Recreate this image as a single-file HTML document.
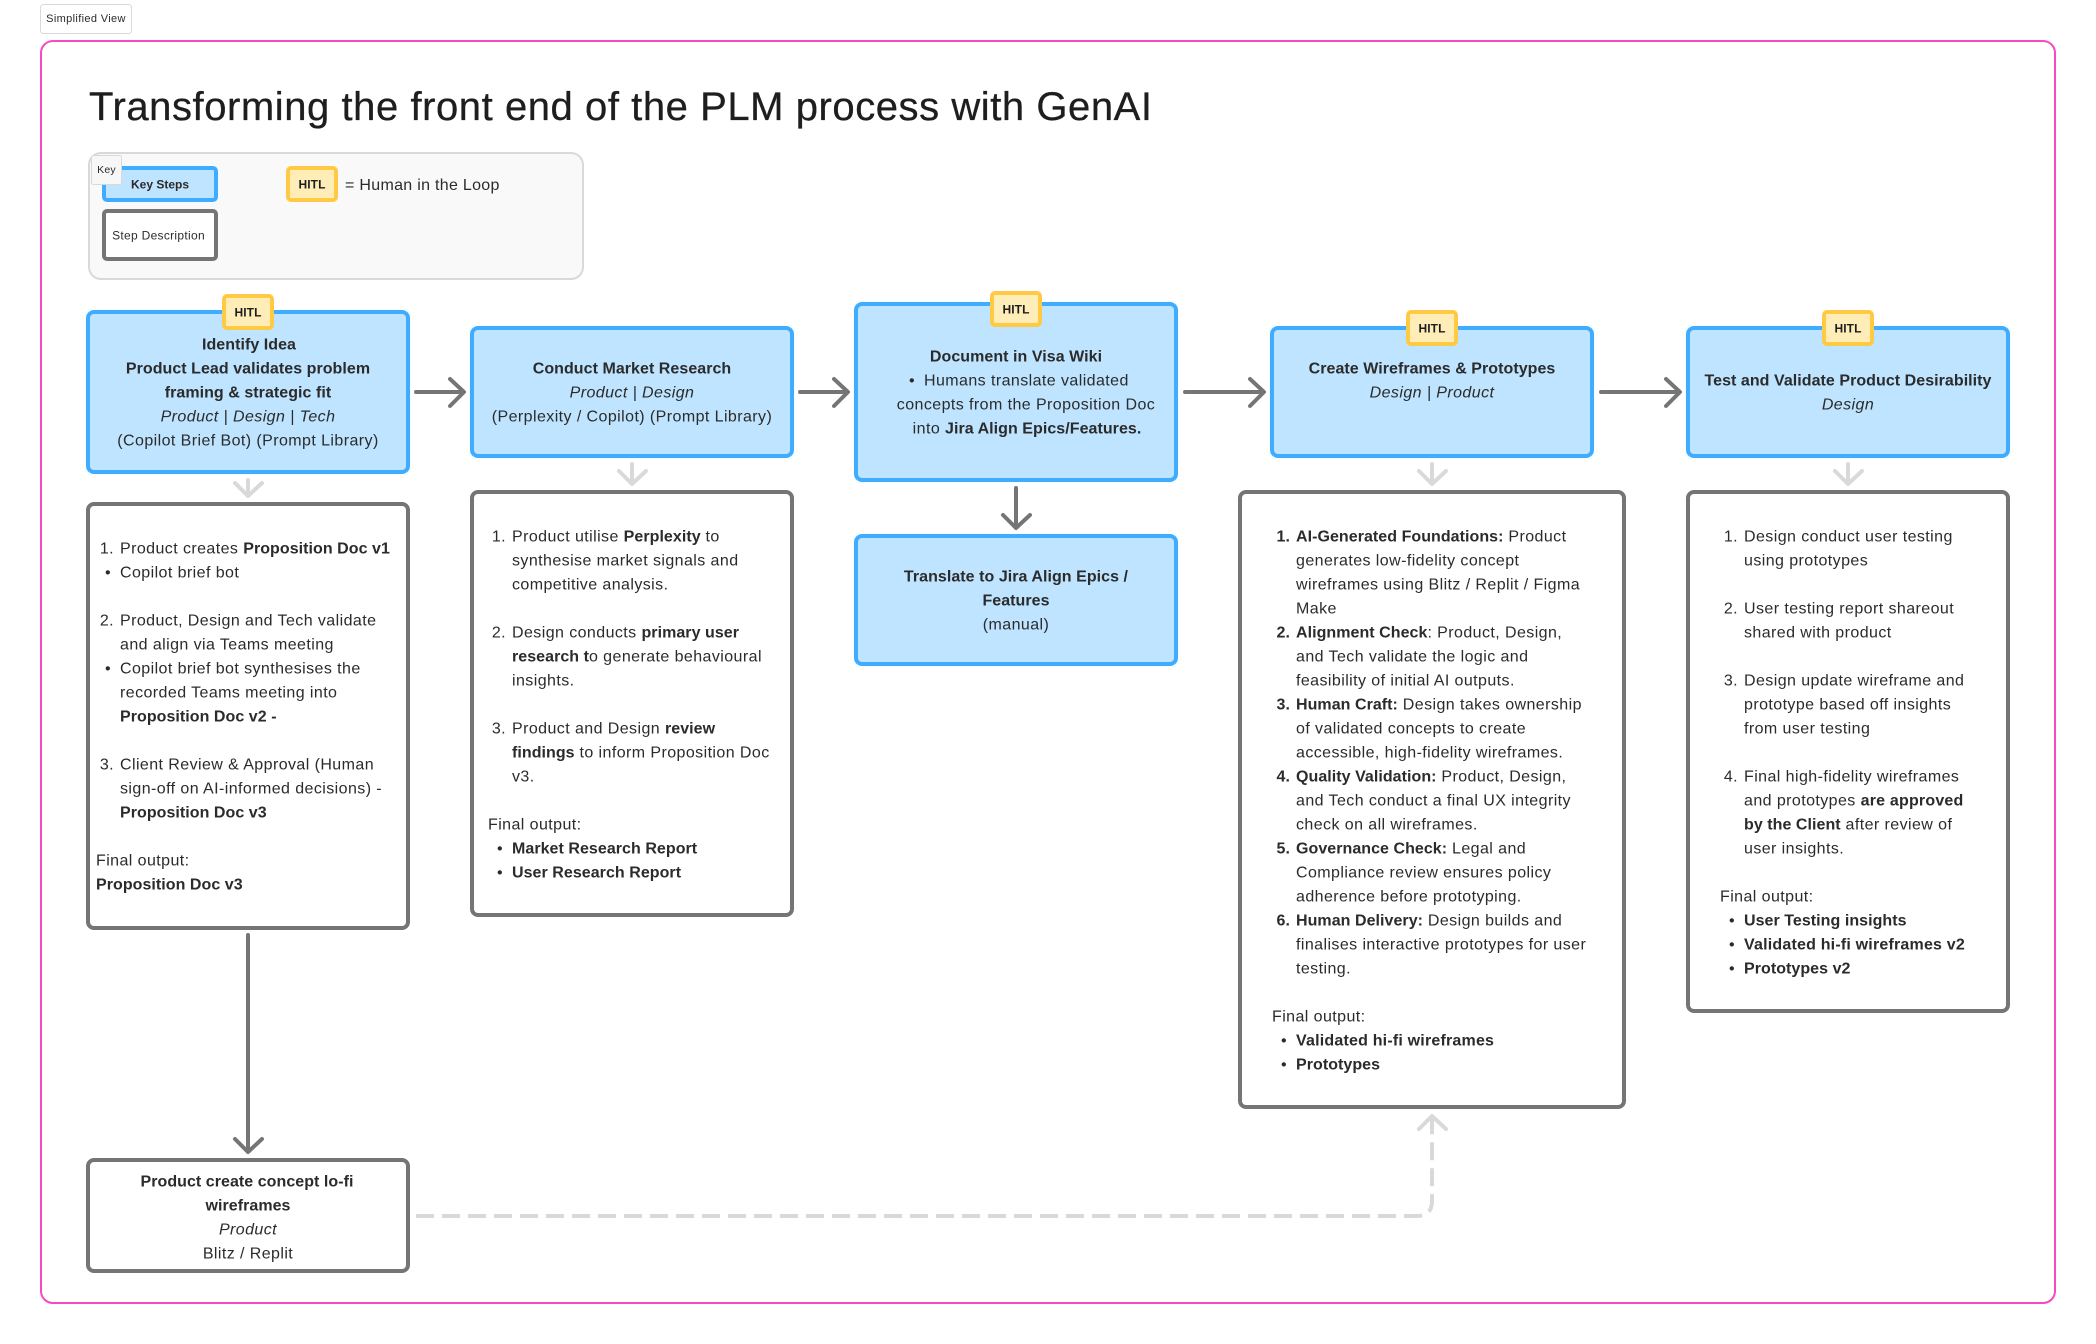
<!DOCTYPE html>
<html lang="en">
<head>
<meta charset="utf-8">
<title>Transforming the front end of the PLM process with GenAI</title>
<style>
html,body{margin:0;padding:0;background:#fff;width:2096px;height:1344px;overflow:hidden}
svg{display:block}
text{font-family:"Liberation Sans",sans-serif;font-size:16px;letter-spacing:.42px;fill:#2b2b2b}
.c{text-anchor:middle}
.e{text-anchor:end}
.b{font-weight:bold;letter-spacing:.05px}
.i{font-style:italic}
tspan.b{font-weight:bold;letter-spacing:.05px}
tspan.w{font-weight:bold;letter-spacing:.2px}
.blue{fill:#bfe4ff;stroke:#3fadff;stroke-width:4}
.gray{fill:#fff;stroke:#757575;stroke-width:4}
.hitl{fill:#ffedb8;stroke:#ffc943;stroke-width:4}
.a{fill:none;stroke:#757575;stroke-width:4;stroke-linecap:round;stroke-linejoin:round}
.l{fill:none;stroke:#d9d9d9;stroke-width:4;stroke-linecap:round;stroke-linejoin:round}
.h{font-size:12px;font-weight:bold;letter-spacing:.1px;text-anchor:middle;fill:#1e1e1e}
</style>
</head>
<body>
<svg width="2096" height="1344" viewBox="0 0 2096 1344" xmlns="http://www.w3.org/2000/svg">
<rect x="40.5" y="4.5" width="91" height="29" rx="3" fill="#fff" stroke="#d9d9d9"/>
<rect x="41" y="41" width="2014" height="1262" rx="12" fill="#fff" stroke="#f849c1" stroke-width="2"/>
<text x="89" y="120" textLength="1063" lengthAdjust="spacing" style="font-size:40px;letter-spacing:0;fill:#1e1e1e;stroke:#1e1e1e;stroke-width:.3">Transforming the front end of the PLM process with GenAI</text>

<!-- Key -->
<rect x="89" y="153" width="494" height="126" rx="12" fill="#f9f9f9" stroke="#d9d9d9" stroke-width="2"/>
<rect x="104" y="168" width="112" height="32" rx="3" class="blue"/>
<rect x="104" y="211" width="112" height="48" rx="3" class="gray"/>
<rect x="288" y="168" width="48" height="32" rx="3" class="hitl"/>
<rect x="91.5" y="155.5" width="30" height="29" rx="2" fill="#f7f7f7" stroke="#d9d9d9"/>

<!-- Blue boxes -->
<rect x="88" y="312" width="320" height="160" rx="6" class="blue"/>
<rect x="472" y="328" width="320" height="128" rx="6" class="blue"/>
<rect x="856" y="304" width="320" height="176" rx="6" class="blue"/>
<rect x="856" y="536" width="320" height="128" rx="6" class="blue"/>
<rect x="1272" y="328" width="320" height="128" rx="6" class="blue"/>
<rect x="1688" y="328" width="320" height="128" rx="6" class="blue"/>

<!-- HITL tags -->
<rect x="224" y="296" width="48" height="32" rx="3" class="hitl"/>
<rect x="992" y="293" width="48" height="32" rx="3" class="hitl"/>
<rect x="1408" y="312" width="48" height="32" rx="3" class="hitl"/>
<rect x="1824" y="312" width="48" height="32" rx="3" class="hitl"/>

<!-- Description boxes -->
<rect x="88" y="504" width="320" height="424" rx="6" class="gray"/>
<rect x="472" y="492" width="320" height="423" rx="6" class="gray"/>
<rect x="1240" y="492" width="384" height="615" rx="6" class="gray"/>
<rect x="1688" y="492" width="320" height="519" rx="6" class="gray"/>
<rect x="88" y="1160" width="320" height="111" rx="6" class="gray"/>

<!-- Connectors -->
<path class="a" d="M416 392H463M450 379L464 392L450 406"/>
<path class="a" d="M800 392H847M834 379L848 392L834 406"/>
<path class="a" d="M1185 392H1263M1250 379L1264 392L1250 406"/>
<path class="a" d="M1601 392H1679M1666 379L1680 392L1666 406"/>
<path class="a" d="M1016 488V528M1003 515L1016 528L1030 515"/>
<path class="a" d="M248 935V1152M235 1139L248 1152L262 1139"/>
<path class="l" d="M248 480V496M235 483L248 496L262 483"/>
<path class="l" d="M632 464V484M619 471L632 484L646 471"/>
<path class="l" d="M1432 464V484M1419 471L1432 484L1446 471"/>
<path class="l" d="M1848 464V484M1835 471L1848 484L1862 471"/>
<path class="l" d="M1419 1129L1432 1116L1446 1129"/>
<path d="M416 1216H1417Q1432 1216 1432 1201V1118" fill="none" stroke="#d9d9d9" stroke-width="4" stroke-dasharray="18 8"/>

<g transform="translate(0,5.5)">
<text x="86" y="16.5" class="c" style="font-size:11px;letter-spacing:.35px">Simplified View</text>
<text x="106.500" y="167.500" class="c" style="font-size:10.5px;letter-spacing:.2px">Key</text>
<text x="160" y="183" class="c b" style="font-size:12px;letter-spacing:0">Key Steps</text>
<text x="158.500" y="234" class="c" style="font-size:12px;letter-spacing:.3px">Step Description</text>
<text x="312" y="183" class="h">HITL</text>
<text x="345" y="184.500" style="font-size:16px;letter-spacing:.3px">= Human in the Loop</text>
<text x="248" y="311" class="h">HITL</text>
<text x="1016" y="308" class="h">HITL</text>
<text x="1432" y="327" class="h">HITL</text>
<text x="1848" y="327" class="h">HITL</text>

<!-- Box 1 -->
<text x="249" y="344" class="c b">Identify Idea</text>
<text x="248" y="368" class="c b">Product Lead validates problem</text>
<text x="248" y="392" class="c b">framing &amp; strategic fit</text>
<text x="248" y="416" class="c i">Product | Design | Tech</text>
<text x="248" y="440" class="c">(Copilot Brief Bot) (Prompt Library)</text>

<!-- Box 2 -->
<text x="632" y="368" class="c b">Conduct Market Research</text>
<text x="632" y="392" class="c i">Product | Design</text>
<text x="632" y="416" class="c">(Perplexity / Copilot) (Prompt Library)</text>

<!-- Box 3 -->
<text x="1016" y="356" class="c b">Document in Visa Wiki</text>
<text x="912" y="380" class="c">•</text>
<text x="924" y="380">Humans translate validated</text>
<text x="1026" y="404" class="c">concepts from the Proposition Doc</text>
<text x="1027" y="428" class="c">into <tspan class="b">Jira Align Epics/Features.</tspan></text>

<!-- Jira box -->
<text x="1016" y="576" class="c b">Translate to Jira Align Epics /</text>
<text x="1016" y="600" class="c b">Features</text>
<text x="1016" y="624" class="c">(manual)</text>

<!-- Box 4 -->
<text x="1432" y="368" class="c b">Create Wireframes &amp; Prototypes</text>
<text x="1432" y="392" class="c i">Design | Product</text>

<!-- Box 5 -->
<text x="1848" y="380" class="c b">Test and Validate Product Desirability</text>
<text x="1848" y="404" class="c i">Design</text>

<!-- Desc 1 -->
<text x="114" y="548" class="e">1.</text>
<text x="120" y="548">Product creates <tspan class="b">Proposition Doc v1</tspan></text>
<text x="108" y="572" class="c">•</text>
<text x="120" y="572">Copilot brief bot</text>
<text x="114" y="620" class="e">2.</text>
<text x="120" y="620">Product, Design and Tech validate</text>
<text x="120" y="644">and align via Teams meeting</text>
<text x="108" y="668" class="c">•</text>
<text x="120" y="668">Copilot brief bot synthesises the</text>
<text x="120" y="692">recorded Teams meeting into</text>
<text x="120" y="716"><tspan class="b">Proposition Doc v2 -</tspan></text>
<text x="114" y="764" class="e">3.</text>
<text x="120" y="764">Client Review &amp; Approval (Human</text>
<text x="120" y="788">sign-off on AI-informed decisions) -</text>
<text x="120" y="812"><tspan class="b">Proposition Doc v3</tspan></text>
<text x="96" y="860">Final output:</text>
<text x="96" y="884"><tspan class="b">Proposition Doc v3</tspan></text>

<!-- Bottom box -->
<text x="247" y="1181" class="c b">Product create concept lo-fi</text>
<text x="248" y="1205" class="c b">wireframes</text>
<text x="248" y="1229" class="c i">Product</text>
<text x="248" y="1253" class="c">Blitz / Replit</text>

<!-- Desc 2 -->
<text x="506" y="536" class="e">1.</text>
<text x="512" y="536">Product utilise <tspan class="b">Perplexity</tspan> to</text>
<text x="512" y="560">synthesise market signals and</text>
<text x="512" y="584">competitive analysis.</text>
<text x="506" y="632" class="e">2.</text>
<text x="512" y="632">Design conducts <tspan class="b">primary user</tspan></text>
<text x="512" y="656"><tspan class="b">research t</tspan>o generate behavioural</text>
<text x="512" y="680">insights.</text>
<text x="506" y="728" class="e">3.</text>
<text x="512" y="728">Product and Design <tspan class="b">review</tspan></text>
<text x="512" y="752"><tspan class="b">findings</tspan> to inform Proposition Doc</text>
<text x="512" y="776">v3.</text>
<text x="488" y="824">Final output:</text>
<text x="500" y="848" class="c">•</text>
<text x="512" y="848"><tspan class="b">Market Research Report</tspan></text>
<text x="500" y="872" class="c">•</text>
<text x="512" y="872"><tspan class="b">User Research Report</tspan></text>

<!-- Desc 4 -->
<g>
<text x="1290" y="536" class="e b">1.</text>
<text x="1296" y="536"><tspan class="b">AI-Generated Foundations:</tspan> Product</text>
<text x="1296" y="560">generates low-fidelity concept</text>
<text x="1296" y="584">wireframes using Blitz / Replit / Figma</text>
<text x="1296" y="608">Make</text>
<text x="1290" y="632" class="e b">2.</text>
<text x="1296" y="632"><tspan class="b">Alignment Check</tspan>: Product, Design,</text>
<text x="1296" y="656">and Tech validate the logic and</text>
<text x="1296" y="680">feasibility of initial AI outputs.</text>
<text x="1290" y="704" class="e b">3.</text>
<text x="1296" y="704"><tspan class="b">Human Craft:</tspan> Design takes ownership</text>
<text x="1296" y="728">of validated concepts to create</text>
<text x="1296" y="752">accessible, high-fidelity wireframes.</text>
<text x="1290" y="776" class="e b">4.</text>
<text x="1296" y="776"><tspan class="b">Quality Validation:</tspan> Product, Design,</text>
<text x="1296" y="800">and Tech conduct a final UX integrity</text>
<text x="1296" y="824">check on all wireframes.</text>
<text x="1290" y="848" class="e b">5.</text>
<text x="1296" y="848"><tspan class="b">Governance Check:</tspan> Legal and</text>
<text x="1296" y="872">Compliance review ensures policy</text>
<text x="1296" y="896">adherence before prototyping.</text>
<text x="1290" y="920" class="e b">6.</text>
<text x="1296" y="920"><tspan class="b">Human Delivery:</tspan> Design builds and</text>
<text x="1296" y="944">finalises interactive prototypes for user</text>
<text x="1296" y="968">testing.</text>
<text x="1272" y="1016">Final output:</text>
<text x="1284" y="1040" class="c">•</text>
<text x="1296" y="1040"><tspan class="w">Validated hi-fi wireframes</tspan></text>
<text x="1284" y="1064" class="c">•</text>
<text x="1296" y="1064"><tspan class="b">Prototypes</tspan></text>
</g>

<!-- Desc 5 -->
<text x="1738" y="536" class="e">1.</text>
<text x="1744" y="536">Design conduct user testing</text>
<text x="1744" y="560">using prototypes</text>
<text x="1738" y="608" class="e">2.</text>
<text x="1744" y="608">User testing report shareout</text>
<text x="1744" y="632">shared with product</text>
<text x="1738" y="680" class="e">3.</text>
<text x="1744" y="680">Design update wireframe and</text>
<text x="1744" y="704">prototype based off insights</text>
<text x="1744" y="728">from user testing</text>
<text x="1738" y="776" class="e">4.</text>
<text x="1744" y="776">Final high-fidelity wireframes</text>
<text x="1744" y="800">and prototypes <tspan class="w">are approved</tspan></text>
<text x="1744" y="824"><tspan class="b">by the Client</tspan> after review of</text>
<text x="1744" y="848">user insights.</text>
<text x="1720" y="896">Final output:</text>
<text x="1732" y="920" class="c">•</text>
<text x="1744" y="920"><tspan class="b">User Testing insights</tspan></text>
<text x="1732" y="944" class="c">•</text>
<text x="1744" y="944"><tspan class="w">Validated hi-fi wireframes v2</tspan></text>
<text x="1732" y="968" class="c">•</text>
<text x="1744" y="968"><tspan class="b">Prototypes v2</tspan></text>
</g>
</svg>
</body>
</html>
